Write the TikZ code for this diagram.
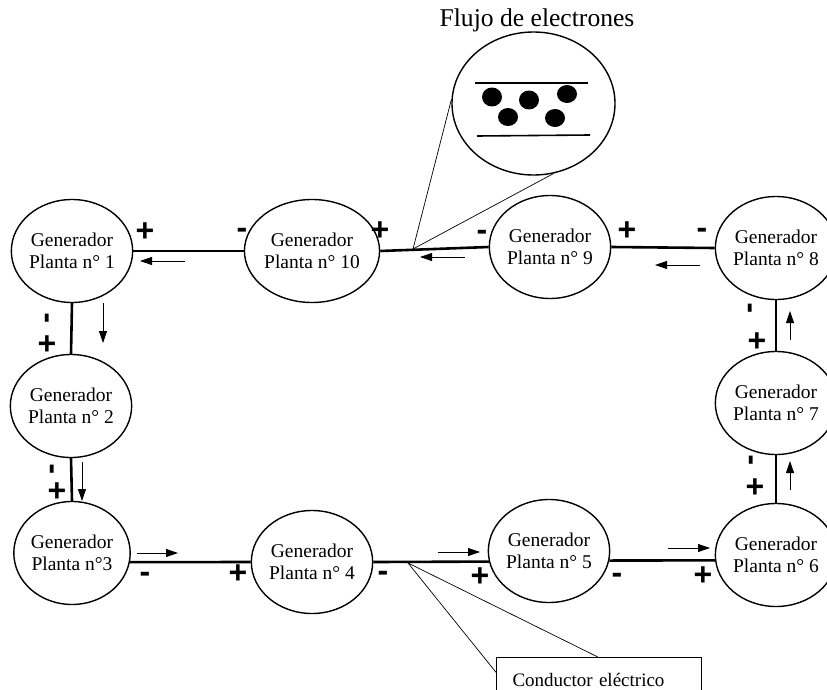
\documentclass[tikz,border=0pt]{standalone}
\usepackage{fontspec}
\setmainfont{Liberation Serif}
\newfontfamily\signfont{Liberation Sans}
\usetikzlibrary{arrows.meta,shapes.geometric}
\tikzset{
  gen/.style={draw, line width=1.4pt, ellipse, minimum width=116pt, minimum height=103pt,
    inner sep=0pt, align=center, font=\fontsize{19.5}{22.5}\selectfont},
  wire/.style={line width=2.6pt},
  flow/.style={line width=0.8pt, -{Triangle[length=12pt,width=8pt]}},
  sign/.style={font=\signfont\bfseries\fontsize{32}{32}\selectfont, inner sep=0pt},
  vsign/.style={sign, rotate=90},
  thin/.style={line width=0.7pt},
}
\begin{document}
\begin{tikzpicture}[x=1pt,y=-1pt]
\useasboundingbox (0,0) rectangle (827,690);
\clip (0,0) rectangle (827,690);
\fill[white] (0,0) rectangle (827,690);

% generators
\node[gen] (g1)  at (72,251)  {Generador\\Planta n° 1};
\node[gen] (g10) at (312,251) {Generador\\Planta n° 10};
\node[gen] (g9)  at (550,247) {Generador\\Planta n° 9};
\node[gen] (g8)  at (776,248) {Generador\\Planta n° 8};
\node[gen] (g7)  at (776,403) {Generador\\Planta n° 7};
\node[gen] (g6)  at (776,555) {Generador\\Planta n° 6};
\node[gen] (g5)  at (549,551) {Generador\\Planta n° 5};
\node[gen] (g4)  at (312,562) {Generador\\Planta n° 4};
\node[gen] (g3)  at (72,553)  {Generador\\Planta n°3};
\node[gen] (g2)  at (71,406)  {Generador\\Planta n° 2};

% wires
\draw[wire] (g1.east) -- (g10.west);
\draw[wire] (g10.east) -- (g9.west);
\draw[wire] (g9.east) -- (g8.west);
\draw[wire] (g8.south) -- (g7.north);
\draw[wire] (g7.south) -- (g6.north);
\draw[wire] (g1.south) -- (g2.north);
\draw[wire] (g2.south) -- (g3.north);
\draw[wire] (g3.-9) -- (g4.west);
\draw[wire] (g4.east) -- (g5.190);
\draw[wire] (g5.-9) -- (g6.185);

% flow arrows
\draw[flow] (185,261) -- (140,261);
\draw[flow] (465,257) -- (420,257);
\draw[flow] (700,265) -- (655,265);
\draw[flow] (103,303) -- (103,343);
\draw[flow] (82,462) -- (82,501);
\draw[flow] (137,553) -- (178,553);
\draw[flow] (438,552) -- (480,552);
\draw[flow] (668,548) -- (710,548);
\draw[flow] (790,340) -- (790,311);
\draw[flow] (790,490) -- (790,461);

% signs
\node[sign] at (145,232) {+};
\node[sign] at (242,233) {-};
\node[sign] at (380,231) {+};
\node[sign] at (482,235) {-};
\node[sign] at (627,231) {+};
\node[sign] at (702,233) {-};
\node[vsign] at (50,318) {-};
\node[sign] at (47,345) {+};
\node[vsign] at (55,469) {-};
\node[sign] at (57,492) {+};
\node[vsign] at (753,308) {-};
\node[sign] at (757,342) {+};
\node[vsign] at (754,460) {-};
\node[sign] at (755,488) {+};
\node[sign] at (145,577) {-};
\node[sign] at (238,574) {+};
\node[sign] at (383,576) {-};
\node[sign] at (480,577) {+};
\node[sign] at (617,578) {-};
\node[sign] at (703,576) {+};

% magnifier
\node[font=\fontsize{25.6}{28}\selectfont, inner sep=0pt] (title) at (537,20) {Flujo de electrones};
\node[draw, ellipse, line width=1.4pt, minimum width=163pt, minimum height=143pt, inner sep=0pt] (mag) at (533.5,103.5) {};
\draw[line width=1.6pt] (475,83) -- (588,83);
\draw[line width=1.6pt] (477,136) -- (590,135);
\fill (492,97) ellipse (10pt and 9.5pt);
\fill (529,100) ellipse (10pt and 9.5pt);
\fill (567,94) ellipse (10pt and 9pt);
\fill (508,117) ellipse (10pt and 9pt);
\fill (555,118) ellipse (10pt and 9pt);
\coordinate (mp) at (413,249);
\draw[thin] (mp) -- (mag.177);
\draw[thin] (mp) -- (mag.-74);

% conductor label
\node[draw, line width=1pt, anchor=north west, minimum width=205pt, minimum height=44pt,
  inner xsep=16pt, text width=173pt, align=left, font=\fontsize{19}{22}\selectfont] (cb) at (496,657) {Conductor eléctrico};
\coordinate (cp) at (408,563);
\draw[thin] (cp) -- (cb.176);
\draw[thin] (cp) -- (cb.93);
\end{tikzpicture}
\end{document}
